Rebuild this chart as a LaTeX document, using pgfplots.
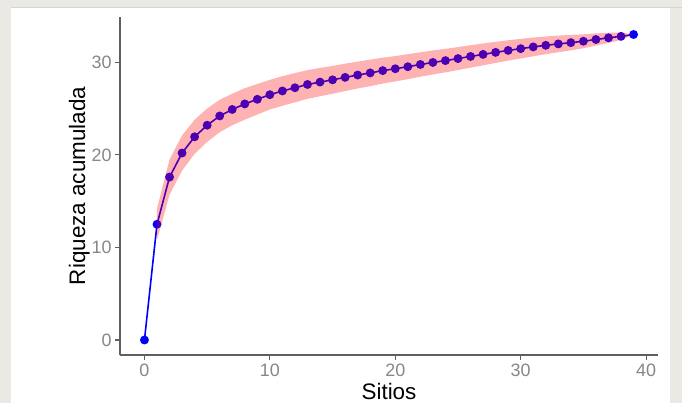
\documentclass[border=0pt]{standalone}
\usepackage{fontspec}
\setmainfont{Liberation Sans}
\usepackage{pgfplots}
\usepackage{pgfplotstable}
\pgfplotsset{compat=1.18}
\definecolor{bgbeige}{RGB}{235,233,227}
\definecolor{bgline}{RGB}{215,213,207}
\definecolor{ticktext}{RGB}{135,135,135}
\definecolor{axline}{RGB}{95,95,95}

\pgfplotstableread{
x m
0 0
1 12.5
2 17.6
3 20.2
4 21.95
5 23.2
6 24.2
7 24.9
8 25.5
9 26.0
10 26.5
11 26.9
12 27.25
13 27.6
14 27.86
15 28.1
16 28.37
17 28.62
18 28.85
19 29.1
20 29.3
21 29.52
22 29.76
23 29.98
24 30.18
25 30.4
26 30.63
27 30.85
28 31.07
29 31.28
30 31.47
31 31.66
32 31.83
33 31.98
34 32.12
35 32.27
36 32.46
37 32.64
38 32.8
39 33.0
}\meandata

\pgfplotstableread{
x y
1 14.2
2 19.5
3 22.1
4 23.8
5 25.0
6 25.95
7 26.6
8 27.2
9 27.65
10 28.1
11 28.5
12 28.83
13 29.15
14 29.39
15 29.6
16 29.85
17 30.07
18 30.28
19 30.5
20 30.67
21 30.87
22 31.08
23 31.28
24 31.45
25 31.64
26 31.84
27 32.03
28 32.21
29 32.38
30 32.53
31 32.67
32 32.79
33 32.88
34 32.95
35 33.02
36 33.12
37 33.19
38 33.2
39 33.0
38 32.4
37 32.09
36 31.8
35 31.52
34 31.29
33 31.08
32 30.87
31 30.65
30 30.41
29 30.18
28 29.93
27 29.67
26 29.42
25 29.16
24 28.91
23 28.68
22 28.44
21 28.17
20 27.93
19 27.7
18 27.42
17 27.17
16 26.89
15 26.6
14 26.33
13 26.05
12 25.67
11 25.3
10 24.9
9 24.35
8 23.8
7 23.2
6 22.45
5 21.4
4 20.1
3 18.3
2 15.7
1 10.8
}\ribbon

\begin{document}
\begin{tikzpicture}[x=1bp,y=1bp]
\useasboundingbox (0,0) rectangle (682,403);
\fill[bgbeige] (0,0) rectangle (682,403);
\fill[white] (11,0) rectangle (670,395);
\draw[bgline, line width=1.2bp] (11,395.4) -- (682,395.4);
\begin{axis}[
  at={(120bp,48bp)}, anchor=south west,
  scale only axis, width=538bp, height=338bp,
  xmin=-1.95, xmax=40.95, ymin=-1.62, ymax=34.89,
  clip marker paths=true,
  axis x line*=bottom, axis y line*=left,
  axis line style={axline, line width=1.1bp, -},
  xtick={0,10,20,30,40}, ytick={0,10,20,30},
  tick align=outside, major tick length=5bp,
  tick style={axline, line width=1.1bp},
  /pgf/number format/assume math mode=true,
  ticklabel style={font=\fontsize{18}{20}\selectfont, text=ticktext},
  xlabel={Sitios}, ylabel={Riqueza acumulada},
  xlabel style={at={(axis description cs:0.5,-0.0835)}, anchor=north, inner sep=0pt, font=\fontsize{22.5}{26}\selectfont},
  ylabel style={at={(axis description cs:-0.0558,0.5)}, anchor=south, inner sep=0pt, font=\fontsize{22.5}{26}\selectfont},
]
\addplot[blue, line width=1.6bp, mark=*, mark size=3.6bp, mark options={solid, fill=blue, draw=blue}] table[x=x,y=m]{\meandata};
\addplot[draw=none, fill=red, fill opacity=0.3] table[x=x,y=y]{\ribbon} -- cycle;
\end{axis}
\end{tikzpicture}
\end{document}
